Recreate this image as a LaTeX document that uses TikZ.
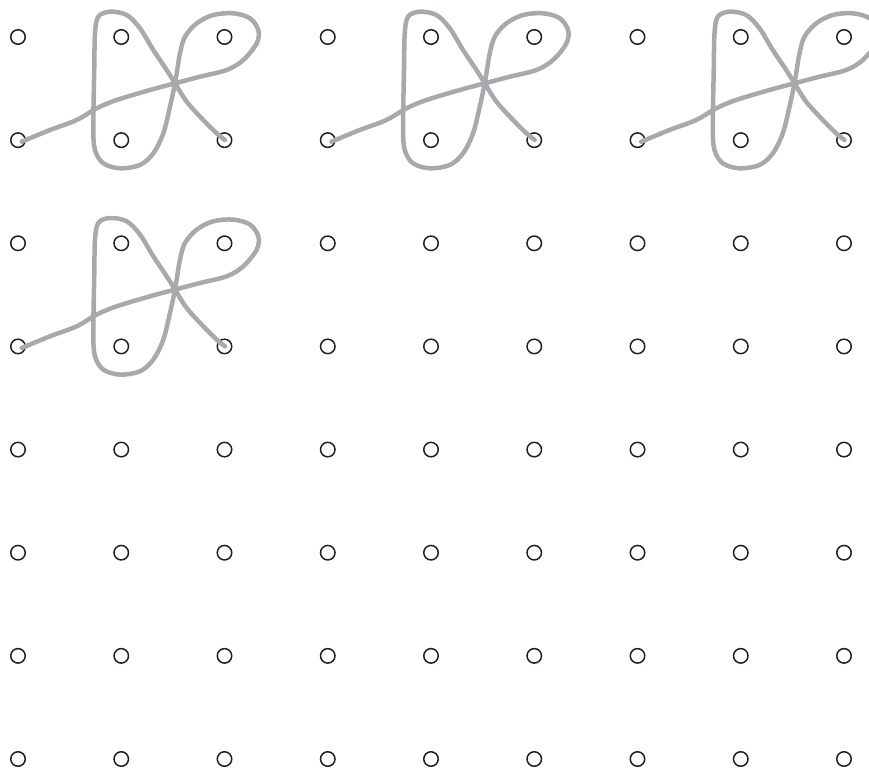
\documentclass[tikz,border=0pt]{standalone}
\definecolor{dotc}{HTML}{231F20}
\definecolor{lacec}{HTML}{A7A9AC}
\begin{document}
\begin{tikzpicture}[x=1pt,y=-1pt,
  dot/.style={circle,draw=dotc,line width=1.5pt,minimum size=14.5pt,inner sep=0pt},
  lace/.style={draw=lacec,line width=4.5pt,line cap=round,line join=round}]
\useasboundingbox (0,0) rectangle (869,771);
\foreach \i in {0,...,8}
  \foreach \j in {0,...,7}
    \node[dot] (d-\i-\j) at ({18+103.25*\i},{37+103.14*\j}) {};
\foreach \sx/\sy in {0/0,309.75/0,619.5/0,0/206.3}{
  \begin{scope}[shift={(\sx,\sy)}]
  \draw[lace] plot[smooth,tension=0.55] coordinates {
    (21.7,141.7) (50,130) (76.7,120) (96.7,108.3) (116.7,100) (150,90) (175,83.3)
    (200,76.7) (226.7,70) (243.3,60) (256.7,43.3) (258.3,30) (250,18.3) (233.3,13.3)
    (213.3,15) (196.7,23.3) (185,36.7) (180,53.3) (176.7,73.3) (175,83.3) (170,106.7)
    (163.3,133.3) (153.3,153.3) (140,165) (120,168.3) (103.3,163.3) (95,150) (93.3,126.7)
    (94.3,66.7) (95,33.3) (98.3,16.7) (110,11.7) (126.7,15) (140,28.3) (153.3,50)
    (166.7,70) (175,83.3) (186.7,101.7) (203.3,120) (216.7,133.3) (225,140)};
  \end{scope}
}
\end{tikzpicture}
\end{document}
